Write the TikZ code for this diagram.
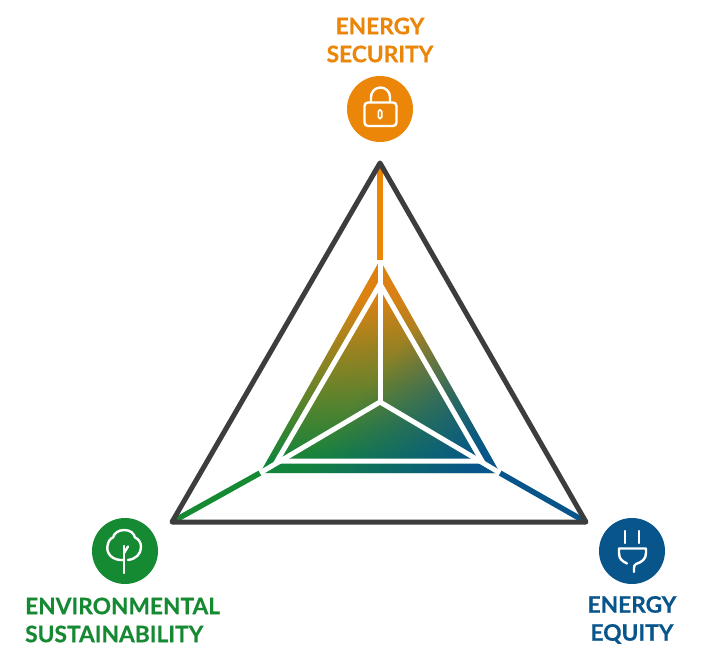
\documentclass[tikz,border=0pt]{standalone}
\usepackage{fontspec}
\setmainfont{Lato}[BoldFeatures={FakeBold=0.5}]
\usetikzlibrary{fadings}
\definecolor{eorange}{HTML}{EC8609}
\definecolor{egreen}{HTML}{158A32}
\definecolor{eblue}{HTML}{08558B}
\definecolor{edark}{HTML}{3D3D3D}
\pgfdeclareverticalshading{orangegreen}{100bp}{
  color(0bp)=(egreen); color(28bp)=(egreen); color(66bp)=(eorange); color(100bp)=(eorange)}
\tikzfading[name=bluefade, left color=transparent!100, right color=transparent!0, middle color=transparent!88]
\tikzset{
  x=1pt,y=-1pt,
  label text/.style={font=\bfseries\fontsize{22.7}{28}\selectfont, align=center, inner sep=0pt},
  disc/.style={circle, minimum size=66pt, inner sep=0pt},
  frame line/.style={draw=edark, line width=5pt, line join=round},
  stem/.style={line width=5.5pt},
  white line/.style={draw=white, line width=5pt, line join=miter},
  icon line/.style={draw=white, line width=2.4pt, line cap=round, line join=round},
}
\begin{document}
\begin{tikzpicture}
\useasboundingbox[fill=white] (0,0) rectangle (702,663);
% vertices
\coordinate (T) at (380,163);
\coordinate (L) at (172,522);
\coordinate (R) at (586,522);
\coordinate (it) at (380,260);
\coordinate (il) at (260,473);
\coordinate (ir) at (500,473);
\coordinate (wt) at (380,284);
\coordinate (wl) at (277,461);
\coordinate (wr) at (482,461);
\coordinate (c) at (380,402);
% stems
\draw[stem, eorange] (T) -- (it);
\draw[stem, egreen] (L) -- (il);
\draw[stem, eblue] (R) -- (ir);
% outer triangle
\draw[frame line] (T) -- (L) -- (R) -- cycle;
% gradient triangle
\begin{scope}
  \clip (it) -- (il) -- (ir) -- cycle;
  \shade[shading=orangegreen] (it) -- (il) -- (ir) -- cycle;
  \fill[eblue, path fading=bluefade, fading angle=-35] (240,250) rectangle (520,490);
\end{scope}
% white lines
\draw[white line] (wt) -- (wl) -- (wr) -- cycle;
\draw[white line] (it) -- (c);
\draw[white line] (il) -- (c);
\draw[white line] (ir) -- (c);
% discs
\node[disc, fill=eorange] (sec) at (380,109) {};
\node[disc, fill=egreen] (env) at (125,551) {};
\node[disc, fill=eblue] (eq) at (632,551) {};
% lock
\draw[icon line, rounded corners=3.5pt] (364.5,102.5) rectangle (396.5,126);
\draw[icon line] (371,102) -- (371,97) arc[start angle=180,end angle=360,radius=9.5] -- (390,102);
\draw[draw=white, line width=1.6pt, rounded corners=1.5pt] (378.3,110) rectangle (381.7,118.5);
% tree
\draw[icon line] (124,560) .. controls (112,561) and (106,553) .. (107.5,546)
  .. controls (108,541) and (111,538) .. (113,537.5)
  .. controls (114,533) and (119,530) .. (124,530)
  .. controls (130,530) and (134,533) .. (135,537.5)
  .. controls (139,539) and (141,543) .. (141,547)
  .. controls (141,554) and (136,559) .. (128,560);
\draw[icon line] (124,546) -- (124,573);
\draw[icon line] (124,553) -- (128,546.5);
% plug
\draw[icon line] (625,531) -- (625,543);
\draw[icon line] (639,531) -- (639,543);
\draw[icon line] (619,548.5) -- (646,548.5) -- (646,553) .. controls (646,559) and (642,562) .. (636,564) .. controls (634.5,565) and (634,566) .. (634,568) -- (634,572);
\draw[icon line] (619,548.5) -- (619,553) .. controls (619,559) and (622,561) .. (627,563.5);
% labels
\node[label text, text=eorange] (sect) at (380,40) {ENERGY\\SECURITY};
\node[label text, text=egreen, align=left, anchor=west] (envt) at (25,620) {ENVIRONMENTAL\\SUSTAINABILITY};
\node[label text, text=eblue] (eqt) at (632,620) {ENERGY\\EQUITY};
\end{tikzpicture}
\end{document}
